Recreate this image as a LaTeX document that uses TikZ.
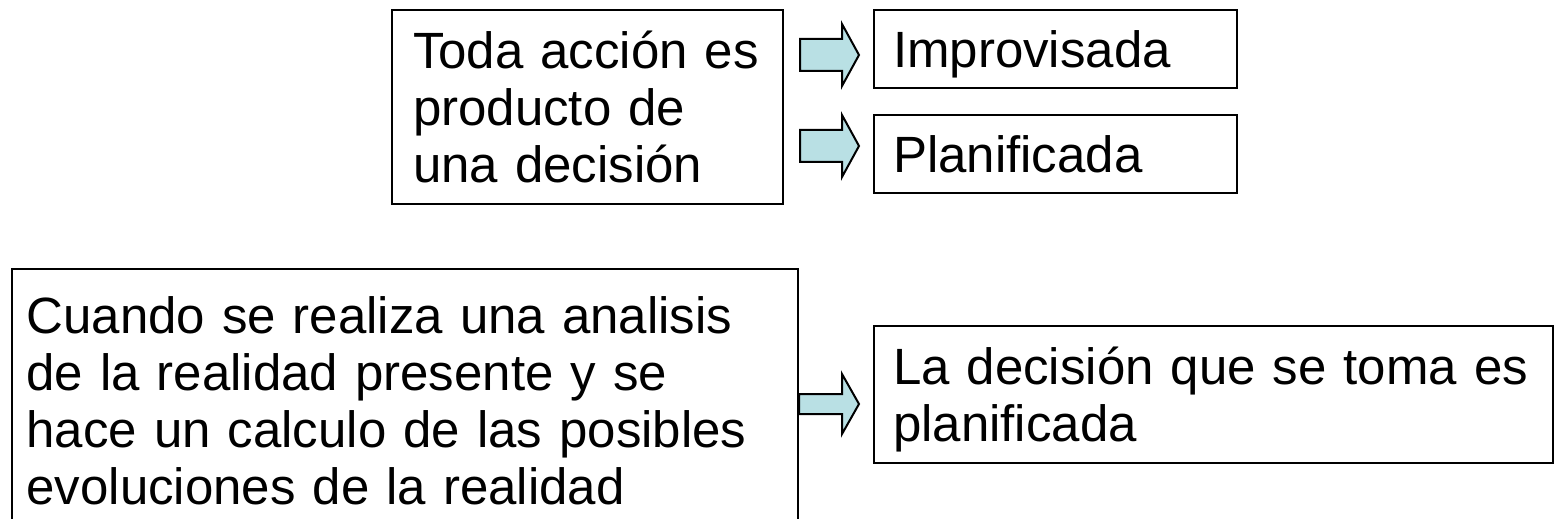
\documentclass[tikz,border=0pt]{standalone}
\usepackage{fontspec}
\setmainfont{Liberation Sans}
\usetikzlibrary{calc}
\definecolor{arrowblue}{RGB}{185,224,228}
% block arrow: start, tip, half shaft, half head
\newcommand{\blockarrow}[4]{%
  \draw[myarrow] ($(#1)+(0,#3)$) -- ($(#2)+(-17,#3)$) -- ($(#2)+(-17,#4)$) -- (#2)
    -- ($(#2)+(-17,-#4)$) -- ($(#2)+(-17,-#3)$) -- ($(#1)+(0,-#3)$) -- cycle;}
\begin{document}
\begin{tikzpicture}[x=0.5pt, y=0.5pt, font=\fontsize{25.5}{28.5}\selectfont]
      \tikzset{
	  mybox/.style={rectangle, draw=black, line width=1pt, inner ysep=0pt, align=left},
	  myarrow/.style={draw=black, line width=1pt, fill=arrowblue, line join=miter}
      }
      \useasboundingbox (0,0) rectangle (1554,-519);
      \clip (0,0) rectangle (1554,-519);

      \node at (587.5,-107) [mybox, minimum width=195.5pt, minimum height=97pt, text width=174.5pt, inner xsep=10.5pt] (toda) {Toda acción es\\producto de\\una decisión};
      \node at (1055.5,-49) [mybox, minimum width=181.5pt, minimum height=39pt, text width=162.5pt, inner xsep=9.5pt, text depth=0pt] (impro) {Improvisada};
      \node at (1055.5,-154) [mybox, minimum width=181.5pt, minimum height=39pt, text width=162.5pt, inner xsep=9.5pt, text depth=0pt] (plani) {Planificada};
      \node at (405,-400.5) [mybox, minimum width=393pt, minimum height=131.5pt, text width=378.5pt, inner xsep=7.25pt] (cuando) {Cuando se realiza una analisis\\de la realidad presente y se\\hace un calculo de las posibles\\evoluciones de la realidad};
      \node at (1213.5,-394.5) [mybox, minimum width=339.5pt, minimum height=68.5pt, text width=320.5pt, inner xsep=9.5pt, text depth=28.5pt] (decision) {La decisión que se toma es\\planificada};

      \path (toda.east |- 0,-55) ++(16,0) coordinate (a1s);
      \path (impro.west |- 0,-55) ++(-14,0) coordinate (a1t);
      \path (toda.east |- 0,-146) ++(16,0) coordinate (a2s);
      \path (plani.west |- 0,-146) ++(-14,0) coordinate (a2t);
      \path (cuando.east |- 0,-404) coordinate (a3s);
      \path (decision.west |- 0,-404) ++(-14,0) coordinate (a3t);

      \blockarrow{a1s}{a1t}{16}{31}
      \blockarrow{a2s}{a2t}{16}{31}
      \blockarrow{a3s}{a3t}{10}{30}
\end{tikzpicture}
\end{document}
